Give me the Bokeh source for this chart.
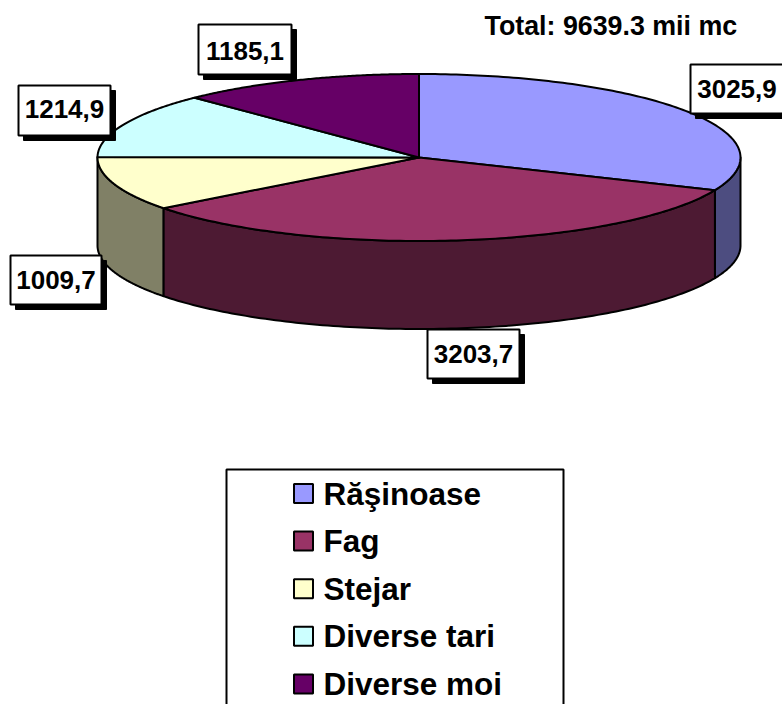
import numpy as np
from bokeh.plotting import figure
from bokeh.models import Range1d
from bokeh.embed import file_html
from bokeh.resources import INLINE
from bokeh.core.properties import value

categories = ["Răşinoase", "Fag", "Stejar", "Diverse tari", "Diverse moi"]
volumes = [3025.9, 3203.7, 1009.7, 1214.9, 1185.1]
title_text = "Total: 9639.3 mii mc"

top_colors = ["#9999FF", "#993366", "#FFFFCC", "#CCFFFF", "#660066"]
side_colors = ["#4D4D80", "#4D1A33", "#808066", "#668080", "#330033"]

FONT = value("Liberation Sans")
CX, CY, RX, RY, DEPTH = 418.5, 157.0, 321.5, 83.5, 88.0

# label boxes: left, top, right, bottom, text baseline (page pixels)
label_boxes = [
    (690, 64, 783, 113, 98),
    (427, 329, 519, 378, 363),
    (10, 255, 101, 304, 289),
    (18, 85, 110, 135, 118),
    (198, 24, 291, 74, 60),
]

p = figure(width=782, height=704, output_backend="svg", toolbar_location=None,
           x_range=Range1d(0, 782), y_range=Range1d(704, 0),
           min_border=0, outline_line_color=None, background_fill_color="white",
           border_fill_color="white")
p.axis.visible = False
p.grid.visible = False


def rim(a0, a1, n=120):
    t = np.radians(np.linspace(a0, a1, n))
    return CX + RX * np.sin(t), CY - RY * np.cos(t)


def baseline(y, size):
    # the page's alphabetic text sits about 0.38 em below the asked position
    return y - 0.38 * size


edges = np.concatenate([[0], np.cumsum(volumes)]) / sum(volumes) * 360.0

# side walls (front half of the pie only)
for i in range(len(volumes)):
    a0, a1 = max(edges[i], 90.0), min(edges[i + 1], 270.0)
    if a1 <= a0:
        continue
    x, y = rim(a0, a1)
    p.patch(list(x) + list(x[::-1]), list(y) + list((y + DEPTH)[::-1]),
            fill_color=side_colors[i], line_color="black", line_width=2,
            line_join="round")

# top slices
for i in range(len(volumes)):
    x, y = rim(edges[i], edges[i + 1])
    p.patch([CX] + list(x), [CY] + list(y), fill_color=top_colors[i],
            line_color="black", line_width=2, line_join="round")

# data labels with a drop shadow
for v, (l, t, r, b, base) in zip(volumes, label_boxes):
    p.quad(left=[l + 5], right=[r + 5], top=[t + 5], bottom=[b + 5],
           fill_color="black", line_color="black", line_width=1)
    p.quad(left=[l], right=[r], top=[t], bottom=[b], fill_color="white",
           line_color="black", line_width=2)
    p.text(x=[(l + r) / 2], y=[baseline(base, 26)], text=[f"{v:.1f}".replace(".", ",")],
           text_font=FONT, text_font_style="bold", text_font_size="26px",
           text_align="center", text_baseline="alphabetic", text_color="black")

p.text(x=[484], y=[baseline(36, 26.8)], text=[title_text], text_font=FONT,
       text_font_style="bold", text_font_size="26.8px", text_align="left",
       text_baseline="alphabetic", text_color="black")

# legend panel, running off the bottom of the page as in the reference
p.quad(left=[226], right=[563], top=[469], bottom=[730], fill_color="white",
       line_color="black", line_width=2)
for i, name in enumerate(categories):
    yc = 493 + 47.6 * i
    p.quad(left=[293.5], right=[312.5], top=[yc - 9.5], bottom=[yc + 9.5],
           fill_color=top_colors[i], line_color="black", line_width=2)
    p.text(x=[323], y=[baseline(yc + 12, 31.5)], text=[name], text_font=FONT,
           text_font_style="bold", text_font_size="31.5px", text_align="left",
           text_baseline="alphabetic", text_color="black")

open("out.html", "w").write(file_html(p, INLINE))
